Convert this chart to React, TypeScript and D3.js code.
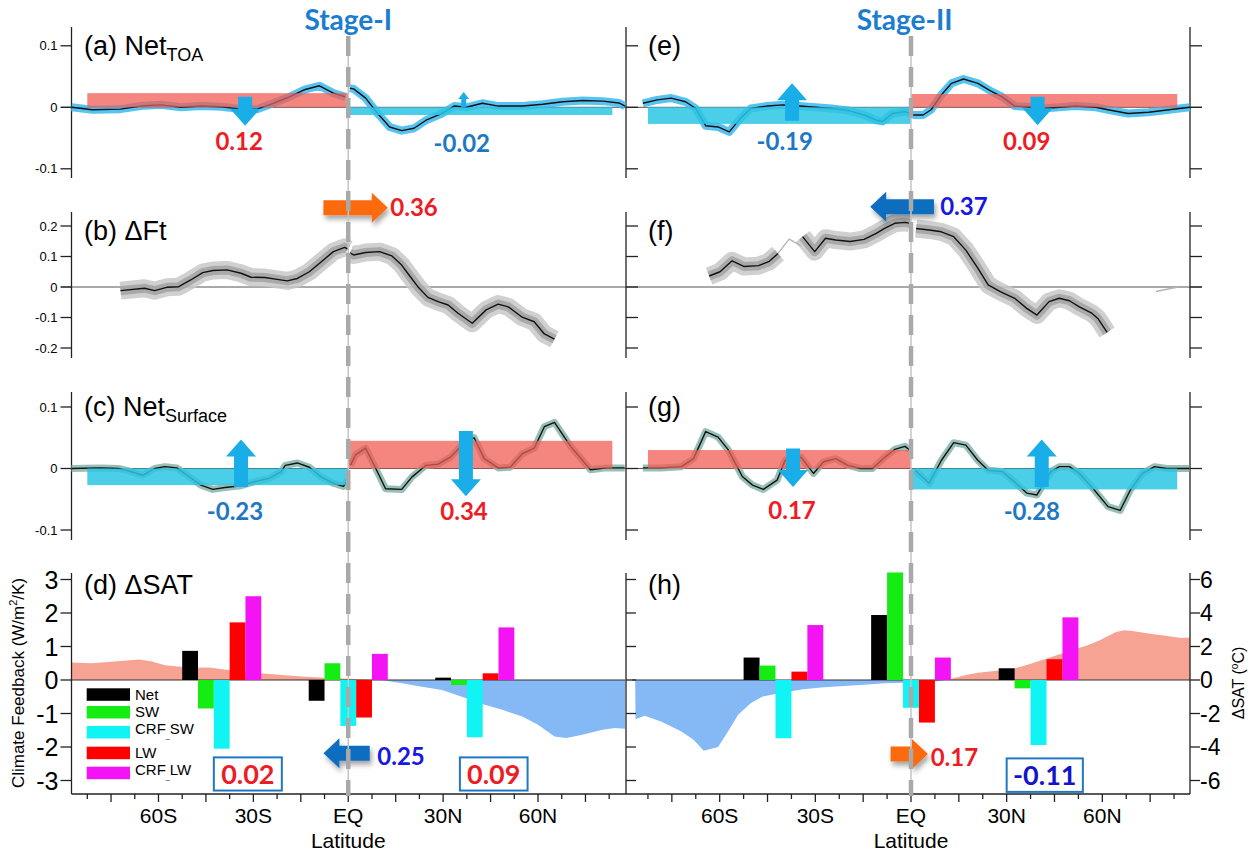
import React from "react";
import * as d3 from "d3";

type Pt = [number, number];

// ---------- Net TOA flux anomaly (ensemble mean), split at the equator ----------
const toaStage1SH: Pt[] = [
  [-87.5, 0], [-80.9, -0.004], [-72, -0.003], [-65.6, 0.002], [-59.3, 0.004], [-52.9, 0],
  [-46.6, 0.002], [-40.2, 0.001], [-33.9, -0.003], [-28.8, -0.003], [-23.7, 0.0065],
  [-18.6, 0.017], [-13.6, 0.029], [-9.1, 0.035], [-4.7, 0.023], [-0.9, 0.017],
];
const toaStage1NH: Pt[] = [
  [0.5, 0.031], [1.7, 0.03], [5.5, 0.015], [9.3, -0.01], [13.1, -0.032], [16.9, -0.038],
  [20.8, -0.034], [24.6, -0.021], [29.7, -0.01], [33.5, 0.002], [37.3, 0], [42.4, 0.0065],
  [47.5, 0.002], [55.1, 0.002], [61.5, 0.005], [67.8, 0.009], [74.2, 0.011], [80.5, 0.01],
  [85.6, 0.007], [87.5, 0.002],
];
const toaStage2SH: Pt[] = [
  [-84.1, 0.0065], [-79.6, 0.012], [-75.2, 0.015], [-70.7, 0.009], [-67.5, -0.002],
  [-64.4, -0.03], [-60.5, -0.032], [-57, -0.04], [-53.5, -0.018], [-50.3, -0.002],
  [-45.2, 0.002], [-40.1, 0.004], [-35.1, 0.002], [-30, 0], [-24.9, -0.002], [-19.8, -0.005],
  [-14.7, -0.0125], [-10.9, -0.021], [-8.9, -0.023], [-5.8, -0.01], [-1.9, -0.007], [-0.3, -0.01],
];
const toaStage2NH: Pt[] = [
  [0.5, -0.0125], [3.8, -0.0125], [6.3, -0.004], [9.5, 0.02], [12.7, 0.039], [16.5, 0.046],
  [21, 0.039], [24.8, 0.027], [28.6, 0.017], [32.5, 0.002], [36.3, 0.001], [41.4, -0.002],
  [46.5, 0], [51.6, 0.002], [58, 0], [61.8, -0.004], [68.1, -0.01], [74.5, -0.008],
  [80.9, -0.004], [87.5, 0],
];

// ---------- Atmospheric energy transport change ΔFt ----------
const ftStage1SH: Pt[] = [
  [-72, -0.012], [-64.4, -0.004], [-61.2, -0.012], [-57.4, -0.001], [-53.6, 0.001],
  [-49.8, 0.023], [-46, 0.047], [-42.8, 0.054], [-38.3, 0.056], [-33.9, 0.045], [-30.7, 0.032],
  [-26.3, 0.031], [-22.5, 0.025], [-19.3, 0.02], [-16.1, 0.028], [-12.3, 0.05], [-8.5, 0.083],
  [-4.7, 0.116], [-1.1, 0.13], [-0.2, 0.124],
];
const ftStage1NH: Pt[] = [
  [0.5, 0.112], [1.7, 0.105], [5.5, 0.113], [9.9, 0.116], [13.8, 0.102], [16.9, 0.072],
  [18.8, 0.045], [22, 0.001], [25.2, -0.034], [28.4, -0.048], [31.6, -0.059], [34.7, -0.086],
  [39.2, -0.119], [43.6, -0.075], [47.4, -0.056], [50.6, -0.065], [55, -0.099], [58.8, -0.114],
  [62, -0.154], [65.2, -0.171],
];
const ftStage2SHa: Pt[] = [
  [-63.3, 0.036], [-59.9, 0.05], [-56.1, 0.086], [-52.3, 0.067], [-47.8, 0.07], [-44.6, 0.083],
  [-41.7, 0.11],
];
const ftStage2SHb: Pt[] = [
  [-34, 0.165], [-30.2, 0.116], [-26.8, 0.16], [-23.6, 0.154], [-19.1, 0.149], [-14.7, 0.156],
  [-10.9, 0.176], [-8.3, 0.192], [-5.1, 0.209], [-1.9, 0.212], [-0.4, 0.209],
];
const ftStage2Gap: Pt[] = [[-41.7, 0.11], [-38.2, 0.157], [-34.5, 0.135]];
const ftStage2NH: Pt[] = [
  [1.6, 0.192], [5.7, 0.187], [9.5, 0.181], [13.4, 0.165], [17.2, 0.121], [21, 0.061],
  [24.2, 0.007], [28, -0.015], [32.5, -0.037], [36.3, -0.07], [39.5, -0.092], [43.3, -0.048],
  [46.5, -0.037], [49.7, -0.045], [52.8, -0.065], [56.7, -0.086], [58.6, -0.103], [61.5, -0.149],
];
const ftStage2Polar: Pt[] = [[76.8, -0.015], [83.4, -0.001]];

// ---------- Net surface flux anomaly ----------
const sfcStage1SH: Pt[] = [
  [-87.5, 0], [-78.3, 0.001], [-72.6, 0], [-69.4, -0.004], [-65, -0.011], [-61.2, 0],
  [-58, 0.003], [-54.2, 0.001], [-50.4, -0.013], [-46.6, -0.027], [-42.8, -0.034], [-39, -0.031],
  [-33.9, -0.028], [-30.1, -0.022], [-25, -0.016], [-21.2, -0.005], [-19.9, 0.005], [-16.1, 0.009],
  [-12.3, 0.002], [-8.5, -0.014], [-4.7, -0.024], [-1.5, -0.029], [-0.2, -0.019],
];
const sfcStage1NH: Pt[] = [
  [0.7, 0.005], [2.3, 0.022], [5.5, 0.033], [8.7, 0], [11.8, -0.033], [16.9, -0.034],
  [20.1, -0.014], [24.5, 0.005], [28.4, 0.007], [32.2, 0.018], [36, 0.038], [39.8, 0.05],
  [43, 0.016], [47.4, 0.001], [51.2, 0.002], [55, 0.024], [58.8, 0.033], [62, 0.068],
  [65.2, 0.075], [70.3, 0.036], [76.6, -0.002], [81.7, 0.001], [87.4, 0.001],
];
const sfcStage2SH: Pt[] = [
  [-84.1, 0.001], [-78.4, 0.001], [-72, 0.003], [-68.2, 0.016], [-64.4, 0.06], [-60.5, 0.051],
  [-57.4, 0.031], [-52.9, -0.013], [-49.7, -0.027], [-46.3, -0.034], [-42, -0.019], [-39.5, 0.013],
  [-37, 0.02], [-34.4, 0.018], [-30.6, -0.008], [-27.4, 0.011], [-23.6, 0.016], [-19.8, 0.005],
  [-15.9, 0], [-12.1, 0], [-8.3, 0.018], [-5.1, 0.031], [-1.9, 0.036], [-0.4, 0.03],
];
const sfcStage2NH: Pt[] = [
  [1.3, -0.003], [5.7, -0.024], [9.5, 0.013], [13.4, 0.042], [17.2, 0.038], [21, 0.013],
  [24.2, -0.003], [28.6, -0.005], [32.5, -0.022], [36.3, -0.04], [39.5, -0.043], [43.9, -0.005],
  [46.5, 0.003], [49.7, 0.003], [52.8, -0.008], [56.7, -0.03], [61.8, -0.062], [65.6, -0.068],
  [68.8, -0.035], [72.6, -0.008], [76.4, 0.003], [80.2, 0], [87.3, 0],
];

// ---------- Hemispheric-mean bars (value per hemisphere) ----------
const hemiExtent: Pt[] = [[-82.5, 0], [0, 83.5]];
const hemiToaStage1 = [0.023, -0.0125];
const hemiToaStage2 = [-0.027, 0.0216];
const hemiSfcStage1 = [-0.027, 0.045];
const hemiSfcStage2 = [0.03, -0.034];

// ---------- Surface air temperature change ΔSAT (°C) ----------
const satStage1: Pt[] = [
  [-87.5, 1.05], [-81, 1.0], [-72, 1.13], [-66, 1.23], [-62, 1.1], [-58, 0.88], [-53, 0.79],
  [-48, 0.73], [-44, 0.75], [-38, 0.6], [-30, 0.44], [-21, 0.3], [-13.5, 0.2], [-6, 0.12],
  [0, 0.08], [5, 0.04], [10.5, 0], [12, -0.04], [17, -0.2], [23.3, -0.4], [29.6, -0.59],
  [33.4, -0.83], [37.3, -1.09], [42.3, -1.43], [48.7, -1.78], [55, -2.18], [60, -2.67],
  [65.2, -3.37], [69, -3.47], [74, -3.27], [80.4, -2.97], [84.3, -2.87], [87.5, -2.91],
];
const satStage2: Pt[] = [
  [-86.5, 0], [-86.4, -2.34], [-83.5, -2.14], [-78.4, -2.48], [-72, -3.07], [-68.2, -3.57],
  [-65, -4.22], [-60.5, -4.0], [-57.4, -3.07], [-54.2, -2.08], [-50.3, -1.39], [-46.5, -0.99],
  [-40.1, -0.75], [-33.8, -0.55], [-27.4, -0.44], [-21, -0.36], [-14.7, -0.28], [-8.3, -0.2],
  [-1.9, -0.16], [3.2, -0.14], [7, -0.1], [10.8, 0], [13.4, 0.1], [17.2, 0.3], [21, 0.44],
  [26.1, 0.53], [31.2, 0.63], [36.3, 0.89], [42.6, 1.29], [49, 1.68], [55.4, 2.08], [59.2, 2.38],
  [64.3, 2.87], [66.9, 2.97], [69.4, 2.93], [74.5, 2.77], [80.9, 2.61], [84.7, 2.51], [87.5, 2.53],
];

// ---------- Regional climate feedbacks (W/m²/K) ----------
const feedbackNames = ["Net", "SW", "CRF_SW", "LW", "CRF_LW"];
const feedbackColors = ["#000000", "#14ec14", "#10f4f4", "#ff0000", "#f413f4"];
const regionCenters = [-40, 0, 40];
const feedbackStage1 = [
  [0.87, -0.62, 0.07],
  [-0.85, 0.5, -0.15],
  [-2.05, -1.37, -1.71],
  [1.72, -1.12, 0.2],
  [2.5, 0.78, 1.57],
];
const feedbackStage2 = [
  [0.67, 1.94, 0.35],
  [0.43, 3.21, -0.25],
  [-1.74, -0.83, -1.94],
  [0.25, -1.27, 0.62],
  [1.64, 0.67, 1.87],
];

const latTicks = [-60, -30, 0, 30, 60];
const latTickLabels = ["60S", "30S", "EQ", "30N", "60N"];

const SANS = "'Liberation Sans', Arial, Helvetica, sans-serif";
const BOLD = "Lato, 'Open Sans', sans-serif";
const RED = "#ee1c25";
const BLUE_TXT = "#1e78c2";
const DEEP_BLUE = "#1818e0";
const ARROW_BLUE = "#1aaee9";
const ORANGE = "#fb6a10";
const DARK_ARROW = "#0f6ec0";

function vArrowPath(cx: number, y0: number, y1: number, shaftW: number, headW: number, headLen: number) {
  const dir = Math.sign(y1 - y0);
  const yb = y1 - dir * headLen;
  return `M${cx - shaftW / 2},${y0}L${cx + shaftW / 2},${y0}L${cx + shaftW / 2},${yb}L${cx + headW / 2},${yb}L${cx},${y1}L${cx - headW / 2},${yb}L${cx - shaftW / 2},${yb}Z`;
}
function hArrowPath(x0: number, x1: number, cy: number, shaftH: number, headH: number, headLen: number) {
  const dir = Math.sign(x1 - x0);
  const xb = x1 - dir * headLen;
  return `M${x0},${cy - shaftH / 2}L${xb},${cy - shaftH / 2}L${xb},${cy - headH / 2}L${x1},${cy}L${xb},${cy + headH / 2}L${xb},${cy + shaftH / 2}L${x0},${cy + shaftH / 2}Z`;
}

const fmtTick = (v: number) => (v === 0 ? "0" : String(+v.toFixed(2)));

export default function App() {
  const xL = d3.scaleLinear().domain([-87.5, 87.5]).range([71.5, 625]);
  const xR = d3.scaleLinear().domain([-87.5, 87.5]).range([632, 1190]);
  const yA = d3.scaleLinear().domain([-0.1, 0.1]).range([168.8, 45.8]);
  const yB = d3.scaleLinear().domain([-0.2, 0.2]).range([348, 226]);
  const yC = d3.scaleLinear().domain([-0.1, 0.1]).range([530, 407]);
  const yD = d3.scaleLinear().domain([-3, 3]).range([780.5, 579.5]);
  const yT = d3.scaleLinear().domain([-6, 6]).range([780.5, 579.5]);

  const AX_L = 71.5, AX_M = 626, AX_R = 1190;

  const rows = [
    { key: "a", y: yA, top: 27, bottom: 178, ticks: [-0.1, 0, 0.1] },
    { key: "b", y: yB, top: 212, bottom: 358, ticks: [-0.2, -0.1, 0, 0.1, 0.2] },
    { key: "c", y: yC, top: 392, bottom: 540, ticks: [-0.1, 0, 0.1] },
  ];
  const rowD = { top: 573, bottom: 794 };

  const lineOf = (x: d3.ScaleLinear<number, number>, y: d3.ScaleLinear<number, number>) =>
    d3.line<Pt>().x((d) => x(d[0])).y((d) => y(d[1]));

  type Ens = { color: string; width: number; opacity: number }[];
  const ensToa: Ens = [{ color: "#38b8ee", width: 8, opacity: 0.85 }];
  const ensFt: Ens = [
    { color: "#c8c8c8", width: 18, opacity: 0.85 },
    { color: "#a4a4a4", width: 9, opacity: 0.9 },
  ];
  const ensSfc: Ens = [{ color: "#8cb7af", width: 7, opacity: 0.9 }];

  const drawSeries = (
    key: string,
    data: Pt[],
    x: d3.ScaleLinear<number, number>,
    y: d3.ScaleLinear<number, number>,
    ens: Ens
  ) => {
    const d = lineOf(x, y)(data) || "";
    return (
      <g key={key}>
        {ens.map((e, i) => (
          <path key={i} d={d} fill="none" stroke={e.color} strokeWidth={e.width}
            strokeOpacity={e.opacity} strokeLinejoin="round" strokeLinecap="butt" />
        ))}
        <path d={d} fill="none" stroke="#111" strokeWidth={1.4} strokeLinejoin="round" />
      </g>
    );
  };

  const hemiBars = (
    key: string,
    vals: number[],
    x: d3.ScaleLinear<number, number>,
    y: d3.ScaleLinear<number, number>
  ) =>
    vals.map((v, i) => {
      const [a, b] = hemiExtent[i];
      const isPos = v > 0;
      return (
        <rect key={`${key}${i}`} x={x(a)} width={x(b) - x(a)}
          y={Math.min(y(0), y(v))} height={Math.abs(y(v) - y(0))}
          fill={isPos ? "#f25a52" : "#2cc6e4"} fillOpacity={isPos ? 0.74 : 0.85} />
      );
    });

  const vArrow = (
    key: string, x: d3.ScaleLinear<number, number>, y: d3.ScaleLinear<number, number>,
    lat: number, from: number, to: number, small = false
  ) => (
    <path key={key}
      d={small ? vArrowPath(x(lat), y(from), y(to), 5, 11, 7) : vArrowPath(x(lat), y(from), y(to), 14, 30, 17)}
      fill={ARROW_BLUE} />
  );

  const valueText = (
    key: string, x: d3.ScaleLinear<number, number>, y: d3.ScaleLinear<number, number>,
    lat: number, v: number, text: string, color: string
  ) => (
    <text key={key} x={x(lat)} y={y(v)} dy="0.36em" textAnchor="middle" fontFamily={BOLD}
      fontWeight={700} fontSize={24} fill={color}>{text}</text>
  );

  const barsFor = (
    key: string, x: d3.ScaleLinear<number, number>, vals: number[][]
  ) =>
    vals.map((series, k) =>
      series.map((v, r) => {
        const c = regionCenters[r] + (k - 2) * 5;
        return (
          <rect key={`${key}${k}-${r}`} x={x(c - 2.5)} width={x(c + 2.5) - x(c - 2.5)}
            y={Math.min(yD(0), yD(v))} height={Math.abs(yD(v) - yD(0))} fill={feedbackColors[k]} />
        );
      })
    );

  const satArea = (key: string, x: d3.ScaleLinear<number, number>, data: Pt[], x0: number, x1: number) => {
    const area = d3.area<Pt>().x((d) => x(d[0])).y0(yT(0)).y1((d) => yT(d[1]));
    const d = area(data) || "";
    return (
      <g key={key}>
        <clipPath id={`${key}pos`}><rect x={x0} y={rowD.top} width={x1 - x0} height={yT(0) - rowD.top} /></clipPath>
        <clipPath id={`${key}neg`}><rect x={x0} y={yT(0)} width={x1 - x0} height={rowD.bottom - yT(0)} /></clipPath>
        <path d={d} fill="#f7a393" clipPath={`url(#${key}pos)`} />
        <path d={d} fill="#85b9f5" clipPath={`url(#${key}neg)`} />
      </g>
    );
  };

  const box = (key: string, x: d3.ScaleLinear<number, number>, lats: Pt, vals: Pt, text: string, color: string) => {
    const x0 = x(lats[0]), x1 = x(lats[1]);
    const y0 = yD(vals[0]), y1 = yD(vals[1]);
    return (
      <g key={key}>
        <rect x={x0} y={y0} width={x1 - x0} height={y1 - y0} fill="#fff" stroke="#1f78c4" strokeWidth={2} />
        <text x={(x0 + x1) / 2} y={(y0 + y1) / 2} dy="0.36em" textAnchor="middle" fontFamily={BOLD}
          fontWeight={700} fontSize={27} fill={color}>{text}</text>
      </g>
    );
  };

  const hArrow = (
    key: string, x: d3.ScaleLinear<number, number>, y: d3.ScaleLinear<number, number>,
    fromLat: number, toLat: number, v: number, color: string
  ) => (
    <path key={key} d={hArrowPath(x(fromLat), x(toLat), y(v), 15, 30, 16)} fill={color} filter="url(#shadow)" />
  );

  const eqLine = (key: string, x: number) => (
    <g key={key}>
      <line x1={x} x2={x} y1={36} y2={796} stroke="#c4c4c4" strokeWidth={1.5} />
      <line x1={x} x2={x} y1={36} y2={796} stroke="#a9a9a9" strokeWidth={4.5} strokeDasharray="20 11" />
    </g>
  );

  const legendRows = [688.3, 706, 726, 746.7, 766.7];

  return (
    <svg width={1258} height={853} style={{ position: "absolute", left: 0, top: 0, background: "#fff" }}
      fontFamily={SANS}>
      <defs>
        <filter id="shadow" x="-30%" y="-40%" width="170%" height="200%">
          <feDropShadow dx="2" dy="4" stdDeviation="2.5" floodColor="#000" floodOpacity="0.35" />
        </filter>
      </defs>
      <rect width={1258} height={853} fill="#fff" />

      {/* Stage titles */}
      <text x={xL(0)} y={30} textAnchor="middle" fontFamily={BOLD} fontWeight={700} fontSize={28} fill="#1b7dd0">Stage-I</text>
      <text x={xR(-2)} y={30} textAnchor="middle" fontFamily={BOLD} fontWeight={700} fontSize={28} fill="#1b7dd0">Stage-II</text>

      {/* Frames, ticks and zero lines for the flux rows */}
      {rows.map((r) => (
        <g key={`ax${r.key}`}>
          <line x1={61} x2={AX_M} y1={r.y(0)} y2={r.y(0)} stroke="#555" strokeWidth={1} />
          <line x1={AX_M} x2={AX_R + 12} y1={r.y(0)} y2={r.y(0)} stroke="#555" strokeWidth={1} />
          {[AX_L, AX_M, AX_R].map((ax) => (
            <line key={ax} x1={ax} x2={ax} y1={r.top} y2={r.bottom} stroke="#222" strokeWidth={1.3} />
          ))}
          {r.ticks.map((t) => (
            <g key={t}>
              <line x1={AX_L - 11} x2={AX_L} y1={r.y(t)} y2={r.y(t)} stroke="#222" strokeWidth={1.3} />
              <line x1={AX_M} x2={AX_M + 12} y1={r.y(t)} y2={r.y(t)} stroke="#222" strokeWidth={1.3} />
              <line x1={AX_R} x2={AX_R + 12} y1={r.y(t)} y2={r.y(t)} stroke="#222" strokeWidth={1.3} />
              <text x={AX_L - 14} y={r.y(t)} dy="0.35em" textAnchor="end" fontSize={13}>{fmtTick(t)}</text>
            </g>
          ))}
        </g>
      ))}

      {/* (a)/(e) net TOA */}
      {drawSeries("a1", toaStage1SH, xL, yA, ensToa)}
      {drawSeries("a2", toaStage1NH, xL, yA, ensToa)}
      {drawSeries("e1", toaStage2SH, xR, yA, ensToa)}
      {drawSeries("e2", toaStage2NH, xR, yA, ensToa)}
      {hemiBars("ha", hemiToaStage1, xL, yA)}
      {hemiBars("he", hemiToaStage2, xR, yA)}
      {vArrow("va1", xL, yA, -32.6, 0.017, -0.03)}
      {vArrow("va2", xL, yA, 36.5, 0, 0.025, true)}
      {vArrow("ve1", xR, yA, -37.3, -0.022, 0.039)}
      {vArrow("ve2", xR, yA, 39.7, 0.017, -0.029)}
      {valueText("ta1", xL, yA, -34.5, -0.056, "0.12", RED)}
      {valueText("ta2", xL, yA, 35.9, -0.058, "-0.02", BLUE_TXT)}
      {valueText("te1", xR, yA, -39.6, -0.056, "-0.19", BLUE_TXT)}
      {valueText("te2", xR, yA, 36.3, -0.056, "0.09", RED)}

      {/* (b)/(f) ΔFt */}
      {drawSeries("b1", ftStage1SH, xL, yB, ensFt)}
      {drawSeries("b2", ftStage1NH, xL, yB, ensFt)}
      {drawSeries("f1", ftStage2SHa, xR, yB, ensFt)}
      {drawSeries("f2", ftStage2SHb, xR, yB, ensFt)}
      {drawSeries("f3", ftStage2NH, xR, yB, ensFt)}
      <path d={lineOf(xR, yB)(ftStage2Gap) || ""} fill="none" stroke="#b5b5b5" strokeWidth={1.3} />
      <path d={lineOf(xR, yB)(ftStage2Polar) || ""} fill="none" stroke="#b5b5b5" strokeWidth={1.6} />
      {hArrow("hb", xL, yB, -7.85, 12.5, 0.26, ORANGE)}
      {valueText("tb", xL, yB, 20.8, 0.26, "0.36", RED)}
      {hArrow("hf", xR, yB, 7.2, -12.8, 0.263, DARK_ARROW)}
      {valueText("tf", xR, yB, 16.6, 0.263, "0.37", DEEP_BLUE)}

      {/* (c)/(g) net surface */}
      {drawSeries("c1", sfcStage1SH, xL, yC, ensSfc)}
      {drawSeries("c2", sfcStage1NH, xL, yC, ensSfc)}
      {drawSeries("g1", sfcStage2SH, xR, yC, ensSfc)}
      {drawSeries("g2", sfcStage2NH, xR, yC, ensSfc)}
      {hemiBars("hc", hemiSfcStage1, xL, yC)}
      {hemiBars("hg", hemiSfcStage2, xR, yC)}
      {vArrow("vc1", xL, yC, -33.9, -0.03, 0.047)}
      {vArrow("vc2", xL, yC, 37.2, 0.061, -0.045)}
      {vArrow("vg1", xR, yC, -37, 0.0325, -0.03)}
      {vArrow("vg2", xR, yC, 41, -0.03, 0.047)}
      {valueText("tc1", xL, yC, -35.8, -0.0705, "-0.23", BLUE_TXT)}
      {valueText("tc2", xL, yC, 36.6, -0.0705, "0.34", RED)}
      {valueText("tg1", xR, yC, -37.3, -0.068, "0.17", RED)}
      {valueText("tg2", xR, yC, 37.9, -0.0705, "-0.28", BLUE_TXT)}

      {/* (d)/(h) ΔSAT and feedback bars */}
      {satArea("sd", xL, satStage1, AX_L, 625)}
      {satArea("sh", xR, satStage2, 632, AX_R)}
      <line x1={AX_L} x2={625} y1={yD(0)} y2={yD(0)} stroke="#333" strokeWidth={1.2} />
      <line x1={632} x2={AX_R} y1={yD(0)} y2={yD(0)} stroke="#333" strokeWidth={1.2} />
      {barsFor("bd", xL, feedbackStage1)}
      {barsFor("bh", xR, feedbackStage2)}

      {/* legend */}
      {feedbackNames.map((n, i) => {
        const [head, tail] = n.includes("_") ? n.split("_") : [n, ""];
        return (
          <g key={n}>
            <rect x={86.7} y={legendRows[i]} width={43.3} height={12.5} fill={feedbackColors[i]} />
            <text x={135} y={legendRows[i] + 6.2 - (tail ? 3 : 0)} dy="0.35em" fontSize={15}>
              {head}
              {tail ? <tspan fontSize={7} dy={4}>_</tspan> : null}
              {tail ? <tspan dy={-4}>{tail}</tspan> : null}
            </text>
          </g>
        );
      })}

      {box("bx1", xL, [-42.5, -21], [-2.31, -3.3], "0.02", RED)}
      {box("bx2", xL, [35.3, 56.7], [-2.31, -3.3], "0.09", RED)}
      {box("bx3", xR, [30, 53.9], [-2.34, -3.34], "-0.11", "#1414c8")}
      {hArrow("hd", xL, yD, 6.8, -7.85, -2.19, DARK_ARROW)}
      {valueText("td", xL, yD, 16.7, -2.29, "0.25", DEEP_BLUE)}
      {hArrow("hh", xR, yD, -6.4, 5.3, -2.21, ORANGE)}
      {valueText("th", xR, yD, 13.6, -2.3, "0.17", RED)}

      {/* row d frame */}
      {[AX_L, AX_M, AX_R].map((ax) => (
        <line key={`d${ax}`} x1={ax} x2={ax} y1={rowD.top} y2={rowD.bottom} stroke="#222" strokeWidth={1.3} />
      ))}
      <line x1={AX_L} x2={AX_M} y1={rowD.bottom} y2={rowD.bottom} stroke="#222" strokeWidth={1.3} />
      <line x1={AX_M} x2={AX_R} y1={rowD.bottom} y2={rowD.bottom} stroke="#222" strokeWidth={1.3} />
      {d3.range(-3, 4).map((t) => (
        <g key={`dt${t}`}>
          <line x1={AX_L - 11} x2={AX_L} y1={yD(t)} y2={yD(t)} stroke="#222" strokeWidth={1.3} />
          <line x1={AX_M} x2={AX_M + 10} y1={yD(t)} y2={yD(t)} stroke="#222" strokeWidth={1.3} />
          <text x={AX_L - 13} y={yD(t)} dy="0.36em" textAnchor="end" fontSize={25}>{fmtTick(t)}</text>
        </g>
      ))}
      {d3.range(-6, 7, 2).map((t) => (
        <g key={`ht${t}`}>
          <line x1={AX_R} x2={AX_R + 10} y1={yT(t)} y2={yT(t)} stroke="#222" strokeWidth={1.3} />
          <text x={AX_R + 10} y={yT(t)} dy="0.36em" textAnchor="start" fontSize={23}>{fmtTick(t)}</text>
        </g>
      ))}
      {[xL, xR].map((x, c) =>
        d3.range(-82.5, 83, 7.5).map((lat) => {
          const major = Math.abs(lat % 15) < 1e-6;
          return (
            <line key={`xt${c}${lat}`} x1={x(lat)} x2={x(lat)} y1={rowD.bottom} y2={rowD.bottom + (major ? 8 : 5)}
              stroke="#222" strokeWidth={1.3} />
          );
        })
      )}
      {[xL, xR].map((x, c) =>
        latTicks.map((lat, i) => (
          <text key={`xl${c}${lat}`} x={x(lat)} y={823} textAnchor="middle" fontSize={21}>{latTickLabels[i]}</text>
        ))
      )}
      <text x={xL(0)} y={848} textAnchor="middle" fontSize={21}>Latitude</text>
      <text x={xR(0)} y={848} textAnchor="middle" fontSize={21}>Latitude</text>

      <text transform="translate(24,683) rotate(-90)" textAnchor="middle" fontSize={17}>
        Climate Feedback (W/m<tspan fontSize={11} dy={-7}>2</tspan><tspan dy={7}>/K)</tspan>
      </text>
      <text transform="translate(1244,683) rotate(-90)" textAnchor="middle" fontSize={16}>
        ΔSAT (<tspan fontSize={10} dy={-6}>o</tspan><tspan dy={6}>C)</tspan>
      </text>

      {/* equator markers */}
      {eqLine("eqL", xL(0))}
      {eqLine("eqR", xR(0))}

      {/* panel labels */}
      <text x={84} y={55} fontSize={27}>(a) Net<tspan fontSize={18} dy={6}>TOA</tspan></text>
      <text x={84} y={240} fontSize={27}>(b) ΔFt</text>
      <text x={84} y={416} fontSize={27}>(c) Net<tspan fontSize={18} dy={6}>Surface</tspan></text>
      <text x={84} y={594} fontSize={27}>(d) ΔSAT</text>
      <text x={648} y={55} fontSize={27}>(e)</text>
      <text x={648} y={240} fontSize={27}>(f)</text>
      <text x={648} y={416} fontSize={27}>(g)</text>
      <text x={648} y={594} fontSize={27}>(h)</text>
    </svg>
  );
}
